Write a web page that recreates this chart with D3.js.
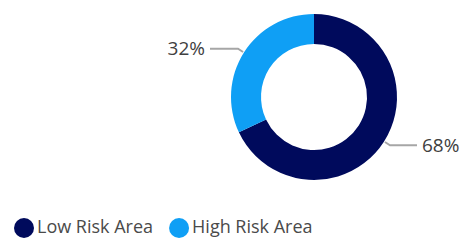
<!DOCTYPE html>
<html>
<head>
<meta charset="utf-8">
<script src="https://cdn.jsdelivr.net/npm/d3@7"></script>
<style>
  body { margin: 0; background: #fff; }
  svg { display: block; }
</style>
</head>
<body>
<div id="chart"></div>
<script>
const categories = ['Low Risk Area', 'High Risk Area'];
const values = [68, 32];
const colors = ['#000a5c', '#0f9ff5'];

const width = 462, height = 240;
const cx = 314, cy = 97;
const outerR = 83, innerR = 53;

const svg = d3.select('#chart').append('svg')
  .attr('width', width)
  .attr('height', height);

const pie = d3.pie().sort(null).value(d => d.value);
const data = pie(categories.map((c, i) => ({ label: c, value: values[i] })));
const total = d3.sum(values);

const arc = d3.arc().innerRadius(innerR).outerRadius(outerR);
const g = svg.append('g').attr('transform', `translate(${cx},${cy})`);

g.selectAll('path.slice')
  .data(data)
  .enter()
  .append('path')
  .attr('class', 'slice')
  .attr('d', arc)
  .attr('fill', (d, i) => colors[i]);

// Leader lines and labels
const startArc = d3.arc().innerRadius(outerR + 1).outerRadius(outerR + 1);
const elbowArc = d3.arc().innerRadius(outerR + 7).outerRadius(outerR + 7);

data.forEach(d => {
  const p0 = startArc.centroid(d);
  const p1 = elbowArc.centroid(d);
  const right = (d.startAngle + d.endAngle) / 2 < Math.PI;
  const p2 = [p1[0] + (right ? 27 : -28), p1[1]];
  g.append('polyline')
    .attr('points', [p0, p1, p2].map(p => p.join(',')).join(' '))
    .attr('fill', 'none')
    .attr('stroke', '#a6a6a6')
    .attr('stroke-width', 2);
  g.append('text')
    .attr('x', p2[0] + (right ? 5 : -5))
    .attr('y', p2[1])
    .attr('dy', '0.35em')
    .attr('text-anchor', right ? 'start' : 'end')
    .style('font-family', '"Open Sans", sans-serif')
    .style('font-size', '19px')
    .style('fill', '#404040')
    .text(Math.round(d.value / total * 100) + '%');
});

// Legend
const legend = svg.append('g').attr('transform', 'translate(0,227)');
let lx = 24;
categories.forEach((c, i) => {
  legend.append('circle')
    .attr('cx', lx)
    .attr('cy', 1)
    .attr('r', 10)
    .attr('fill', colors[i]);
  const t = legend.append('text')
    .attr('x', lx + 13)
    .attr('y', 0)
    .attr('dy', '0.35em')
    .style('font-family', '"Open Sans", sans-serif')
    .style('font-size', '18px')
    .style('fill', '#4a4a4a')
    .text(c);
  lx += 13 + t.node().getComputedTextLength() + 26;
});
</script>
</body>
</html>
